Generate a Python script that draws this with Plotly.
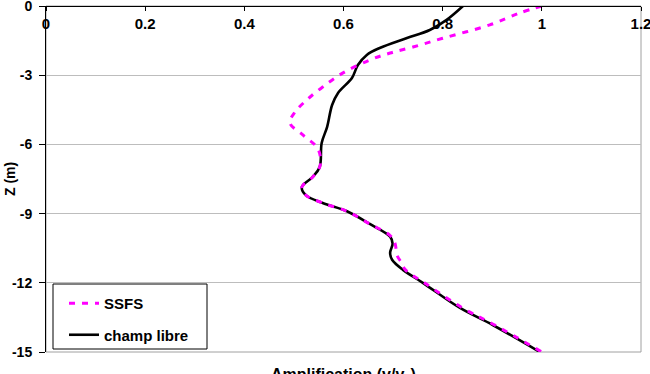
import plotly.graph_objects as go

# champ libre (black solid)
libre_x = [0.841, 0.808, 0.774, 0.728, 0.673, 0.647, 0.629, 0.617, 0.589, 0.577,
           0.567, 0.556, 0.552, 0.538, 0.516, 0.524, 0.558, 0.607, 0.653, 0.694,
           0.699, 0.694, 0.698, 0.720, 0.760, 0.835, 0.901, 0.996]
libre_z = [0.0, -0.6, -1.04, -1.39, -1.82, -2.12, -2.56, -3.12, -3.77, -4.29,
           -5.24, -5.94, -6.98, -7.41, -7.85, -8.2, -8.54, -8.9, -9.45, -10.0,
           -10.3, -10.7, -11.0, -11.44, -12.0, -13.09, -13.83, -15.0]

# SSFS (magenta dashed)
ssfs_x = [1.0, 0.956, 0.895, 0.80, 0.74, 0.694, 0.653, 0.599, 0.558, 0.526,
          0.502, 0.492, 0.518, 0.546, 0.553, 0.552, 0.538, 0.516, 0.524, 0.558,
          0.607, 0.653, 0.694, 0.704, 0.708, 0.716, 0.725, 0.763, 0.840, 0.905, 1.0]
ssfs_z = [0.0, -0.3, -0.82, -1.4, -1.78, -2.04, -2.34, -2.9, -3.51, -4.07,
          -4.6, -5.07, -5.59, -6.11, -6.5, -6.98, -7.41, -7.85, -8.2, -8.54,
          -8.9, -9.45, -9.95, -10.3, -10.8, -11.1, -11.44, -12.0, -13.09, -13.83, -15.0]

x_ticks = [0, 0.2, 0.4, 0.6, 0.8, 1, 1.2]
x_ticklabels = ["0", "0.2", "0.4", "0.6", "0.8", "1", "1.2"]
z_ticks = [0, -3, -6, -9, -12, -15]
z_ticklabels = ["0", "-3", "-6", "-9", "-12", "-15"]

FONT = "Liberation Sans, Arial, sans-serif"

fig = go.Figure()
fig.add_trace(go.Scatter(
    x=libre_x, y=libre_z, mode="lines", name="champ libre", legendgroup="b",
    line=dict(color="black", width=2.6, shape="spline", smoothing=1.0),
    legendrank=2,
))
fig.add_trace(go.Scatter(
    x=ssfs_x, y=ssfs_z, mode="lines", name="SSFS", legendgroup="a",
    line=dict(color="#FF00FF", width=3, dash="6px,7px", shape="spline", smoothing=1.0),
    legendrank=1,
))

L, R, T, B = 46, 9, 6, 22
W, H = 650, 374
pw, ph = W - L - R, H - T - B


def px_x(p):
    return (p - L) / pw


def px_y(p):
    return (H - B - p) / ph


fig.update_layout(
    width=W, height=H,
    margin=dict(l=L, r=R, t=T, b=B, pad=0, autoexpand=False),
    paper_bgcolor="white", plot_bgcolor="white",
    font=dict(family=FONT, size=15, color="black", weight="bold"),
    showlegend=True,
    legend=dict(
        x=px_x(64), y=px_y(287), xanchor="left", yanchor="top",
        borderwidth=0, bgcolor="rgba(0,0,0,0)",
        font=dict(family=FONT, size=15, color="black", weight="bold"),
        tracegroupgap=9, traceorder="grouped",
    ),
    xaxis=dict(
        range=[0, 1.2], side="bottom", anchor="free", position=1,
        tickvals=x_ticks, ticktext=x_ticklabels,
        ticklabeloverflow="allow", automargin=False,
        ticks="outside", ticklen=4, tickcolor="black",
        showline=True, linecolor="black", linewidth=1, showgrid=False, zeroline=False,
        tickfont=dict(family=FONT, size=15, color="black", weight="bold"),
        fixedrange=True,
    ),
    yaxis=dict(
        range=[-15, 0], tickvals=z_ticks, ticktext=z_ticklabels,
        ticklabeloverflow="allow", automargin=False,
        ticks="outside", ticklen=6, tickcolor="black", ticklabelstandoff=4,
        showline=True, linecolor="black", linewidth=1,
        showgrid=True, gridcolor="#BDBDBD", gridwidth=1, zeroline=False,
        tickfont=dict(family=FONT, size=14, color="black", weight="bold"),
        fixedrange=True,
    ),
    shapes=[
        dict(type="rect", xref="paper", yref="paper", x0=0, x1=1, y0=0, y1=1,
             line=dict(color="#A0A0A0", width=1), layer="below"),
        dict(type="rect", xref="paper", yref="paper",
             x0=px_x(53), x1=px_x(207), y0=px_y(349), y1=px_y(284),
             line=dict(color="black", width=1), fillcolor="white", layer="above"),
    ],
    annotations=[
        dict(text="<b>Amplification (v/v<sub>0</sub>)</b>", xref="paper", yref="paper",
             x=0.5, y=px_y(364), xanchor="center", yanchor="top",
             showarrow=False, font=dict(family=FONT, size=16, color="black")),
        dict(text="<b>Z (m)</b>", xref="paper", yref="paper",
             x=px_x(10), y=0.5, xanchor="center", yanchor="middle", textangle=-90,
             showarrow=False, font=dict(family=FONT, size=14, color="black")),
    ],
)

fig.write_html("out.html")
